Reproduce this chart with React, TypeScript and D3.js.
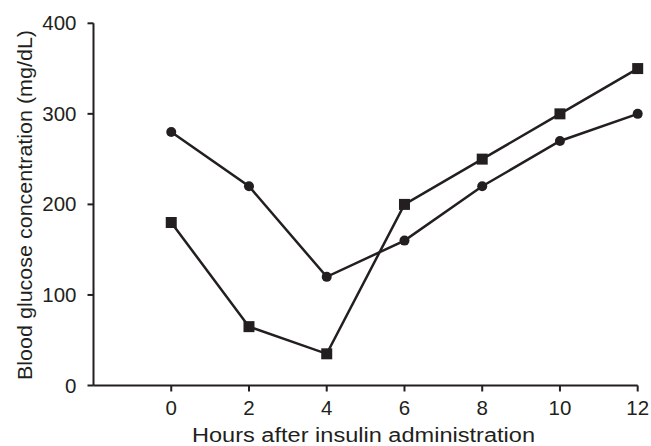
import React from "react";
import * as d3 from "d3";

const hours = [0, 2, 4, 6, 8, 10, 12];
const circleSeries = [280, 220, 120, 160, 220, 270, 300];
const squareSeries = [180, 65, 35, 200, 250, 300, 350];
const yTicks = [0, 100, 200, 300, 400];
const xTicks = [0, 2, 4, 6, 8, 10, 12];

const W = 651;
const H = 446;
const INK = "#231f20";
const FONT = "'Liberation Sans', Arial, Helvetica, sans-serif";

export default function App() {
  const x = d3.scaleLinear().domain([-2, 12]).range([93.5, 637.7]);
  const y = d3.scaleLinear().domain([0, 400]).range([385.5, 23.3]);

  const line = d3
    .line<number>()
    .x((_, i) => x(hours[i]))
    .y((d) => y(d));

  const x0 = x.range()[0];
  const x1 = x.range()[1];
  const y0 = y.range()[0];
  const y1 = y.range()[1];

  return (
    <svg
      width={W}
      height={H}
      style={{ position: "absolute", left: 0, top: 0, background: "#fff" }}
      fontFamily={FONT}
    >
      {/* axes */}
      <line x1={x0} x2={x1} y1={y0} y2={y0} stroke={INK} strokeWidth={2} />
      <line x1={x0} x2={x0} y1={y0} y2={y1} stroke={INK} strokeWidth={2} />
      {yTicks.map((t) => (
        <g key={"y" + t}>
          <line x1={x0 - 6} x2={x0} y1={y(t)} y2={y(t)} stroke={INK} strokeWidth={2} />
          <text
            x={x0 - 17}
            y={y(t) + 7}
            textAnchor="end"
            fontSize={20.5}
            fill={INK}
          >
            {t}
          </text>
        </g>
      ))}
      {xTicks.map((t) => (
        <g key={"x" + t}>
          <line x1={x(t)} x2={x(t)} y1={y0} y2={y0 + 6} stroke={INK} strokeWidth={2} />
          <text x={x(t)} y={415} textAnchor="middle" fontSize={20.5} fill={INK}>
            {t}
          </text>
        </g>
      ))}
      <text
        x={363.5}
        y={441.5}
        textAnchor="middle"
        fontSize={19.5}
        textLength={343}
        lengthAdjust="spacingAndGlyphs"
        fill={INK}
      >
        Hours after insulin administration
      </text>
      <text
        transform={`translate(32, 205) rotate(-90)`}
        textAnchor="middle"
        fontSize={20.5}
        textLength={350}
        lengthAdjust="spacingAndGlyphs"
        fill={INK}
      >
        Blood glucose concentration (mg/dL)
      </text>

      {/* series */}
      <path d={line(circleSeries) ?? ""} fill="none" stroke={INK} strokeWidth={2.5} />
      <path d={line(squareSeries) ?? ""} fill="none" stroke={INK} strokeWidth={2.5} />
      {circleSeries.map((v, i) => (
        <circle key={"c" + i} cx={x(hours[i])} cy={y(v)} r={5} fill={INK} />
      ))}
      {squareSeries.map((v, i) => (
        <rect key={"s" + i} x={x(hours[i]) - 5.5} y={y(v) - 5.5} width={11} height={11} fill={INK} />
      ))}
    </svg>
  );
}
